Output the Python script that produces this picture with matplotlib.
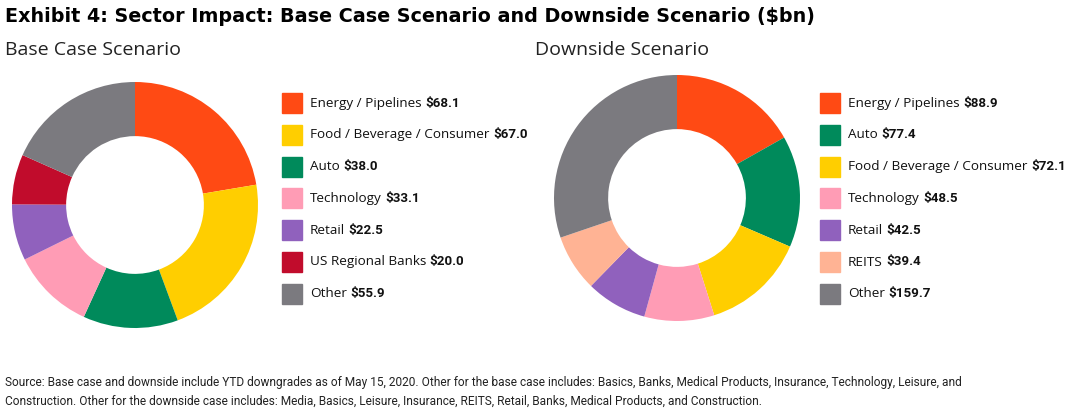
import matplotlib
matplotlib.use('Agg')
import matplotlib.pyplot as plt
from matplotlib.patches import Rectangle

# data
base_labels = ['Energy / Pipelines', 'Food / Beverage / Consumer', 'Auto', 'Technology',
               'Retail', 'US Regional Banks', 'Other']
base_values = [68.1, 67.0, 38.0, 33.1, 22.5, 20.0, 55.9]
base_colors = ['#FF4A14', '#FFCE00', '#008A5B', '#FF9CB5', '#9061BD', '#C10C2C', '#7B7A7F']

down_labels = ['Energy / Pipelines', 'Auto', 'Food / Beverage / Consumer', 'Technology',
               'Retail', 'REITS', 'Other']
down_values = [88.9, 77.4, 72.1, 48.5, 42.5, 39.4, 159.7]
down_colors = ['#FF4A14', '#008A5B', '#FFCE00', '#FF9CB5', '#9061BD', '#FFB394', '#7B7A7F']

W, H = 1070, 415
fig = plt.figure(figsize=(W / 100, H / 100), dpi=100)
FONT = ['Open Sans', 'DejaVu Sans']
BOLD = ['Roboto', 'DejaVu Sans']
TITLE = ['DejaVu Sans']
NARROW = ['Roboto', 'DejaVu Sans']


def px(x, y):
    return x / W, 1 - y / H


def donut(cx, cy, r, values, colors):
    ax = fig.add_axes([(cx - r) / W, (H - cy - r) / H, 2 * r / W, 2 * r / H])
    ax.pie(values, colors=colors, startangle=90, counterclock=False,
           wedgeprops=dict(width=0.44, linewidth=0))
    ax.set_xlim(-1, 1)
    ax.set_ylim(-1, 1)
    ax.set_aspect('equal')
    ax.axis('off')


donut(135, 205, 123, base_values, base_colors)
donut(677, 198, 123, down_values, down_colors)

renderer = fig.canvas.get_renderer()


def legend(x0, y0, labels, values, colors, step=31.8):
    for i, (lab, val, col) in enumerate(zip(labels, values, colors)):
        yc = y0 + i * step
        fig.patches.append(Rectangle(px(x0, yc + 10), 20 / W, 20 / H, color=col,
                                     transform=fig.transFigure, figure=fig))
        t = fig.text(*px(x0 + 28, yc), lab, fontsize=9.7, family=FONT,
                     va='center', ha='left', color='#111111')
        bb = t.get_window_extent(renderer)
        fig.text(bb.x1 / W + 3.5 / W, 1 - yc / H, '$%.1f' % val, fontsize=9.6,
                 family=BOLD, fontweight='bold', va='center', ha='left', color='#111111')


legend(282, 103, base_labels, base_values, base_colors)
legend(820, 103, down_labels, down_values, down_colors)

fig.text(*px(5, 17), 'Exhibit 4: Sector Impact: Base Case Scenario and Downside Scenario ($bn)',
         fontsize=13.8, fontweight='bold', family=TITLE, va='center', ha='left')
fig.text(*px(5, 50), 'Base Case Scenario', fontsize=14, family=FONT, va='center', ha='left',
         color='#222222')
fig.text(*px(535, 50), 'Downside Scenario', fontsize=14, family=FONT, va='center', ha='left',
         color='#222222')

fig.text(*px(5, 382), 'Source: Base case and downside include YTD downgrades as of May 15, 2020. '
         'Other for the base case includes: Basics, Banks, Medical Products, Insurance, Technology, '
         'Leisure, and', fontsize=8.55, family=NARROW, va='center', ha='left', color='#222222')
fig.text(*px(5, 401), 'Construction. Other for the downside case includes: Media, Basics, Leisure, '
         'Insurance, REITS, Retail, Banks, Medical Products, and Construction.',
         fontsize=8.55, family=NARROW, va='center', ha='left', color='#222222')

fig.savefig('out.png', dpi=100)
